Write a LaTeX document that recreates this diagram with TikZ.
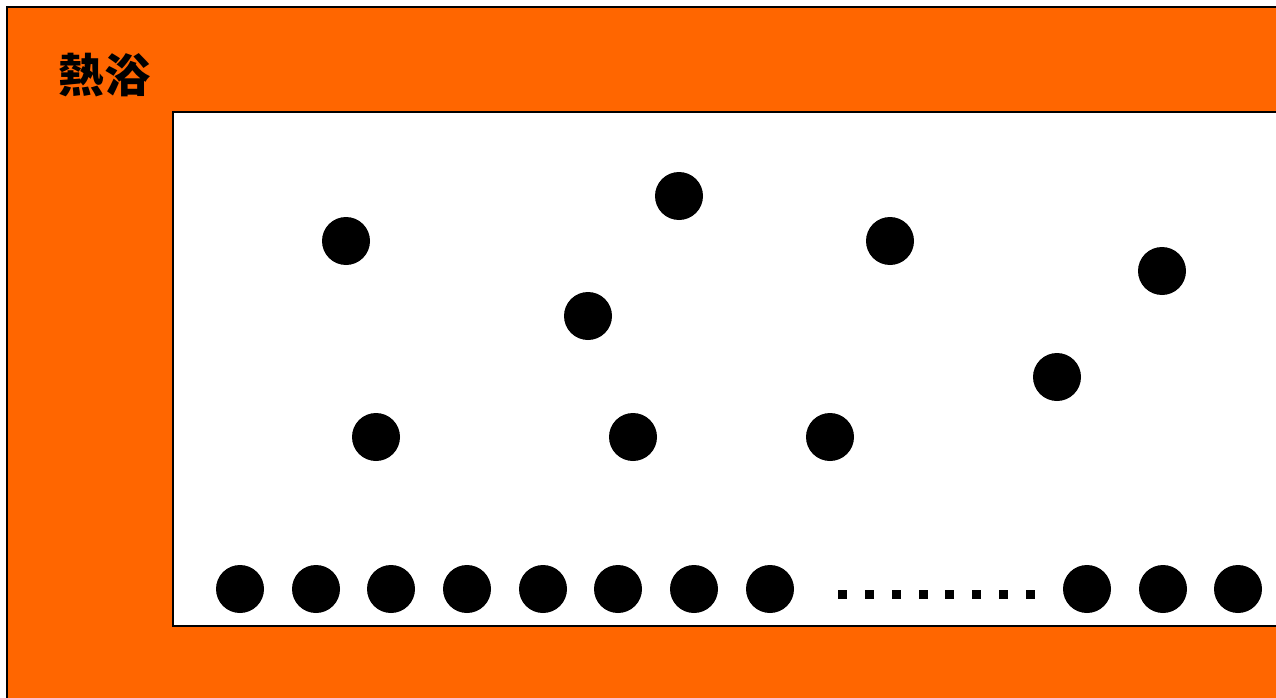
\documentclass[tikz,border=0pt]{standalone}
\usepackage{fontspec}
\newfontfamily\cjk{Noto Sans CJK SC}
\definecolor{bath}{HTML}{FF6600}
\tikzset{
  particle/.style={circle, fill=black, minimum size=48pt, inner sep=0pt},
  dotsq/.style={fill=black, minimum size=9pt, inner sep=0pt},
  frame/.style={draw=black, line width=2pt}
}
\begin{document}
\begin{tikzpicture}[x=1pt,y=-1pt]
\useasboundingbox (0,0) rectangle (1276,698);
\clip (0,0) rectangle (1276,698);
\fill[white] (0,0) rectangle (1276,698);
\draw[frame, fill=bath] (7,7) rectangle (1300,720);
\draw[frame, fill=white] (173,112) rectangle (1300,626);
\node[font={\cjk\bfseries\fontsize{46}{50}\selectfont}, anchor=center] (label) at (104,75) {熱浴};
% free particles
\foreach \n/\x/\y in {a/346/241, b/679/196, c/890/241, d/1162/271, e/588/316, f/1057/377, g/376/437, h/633/437, i/830/437}
  \node[particle] (\n) at (\x,\y) {};
% bottom row
\foreach \n/\x in {r1/240, r2/316, r3/391, r4/467, r5/543, r6/618, r7/694, r8/770, r9/1087, r10/1163, r11/1238}
  \node[particle] (\n) at (\x,589) {};
\foreach \k in {0,...,7}
  \node[dotsq] (s\k) at ({842.7+26.8*\k},594) {};
\end{tikzpicture}
\end{document}
